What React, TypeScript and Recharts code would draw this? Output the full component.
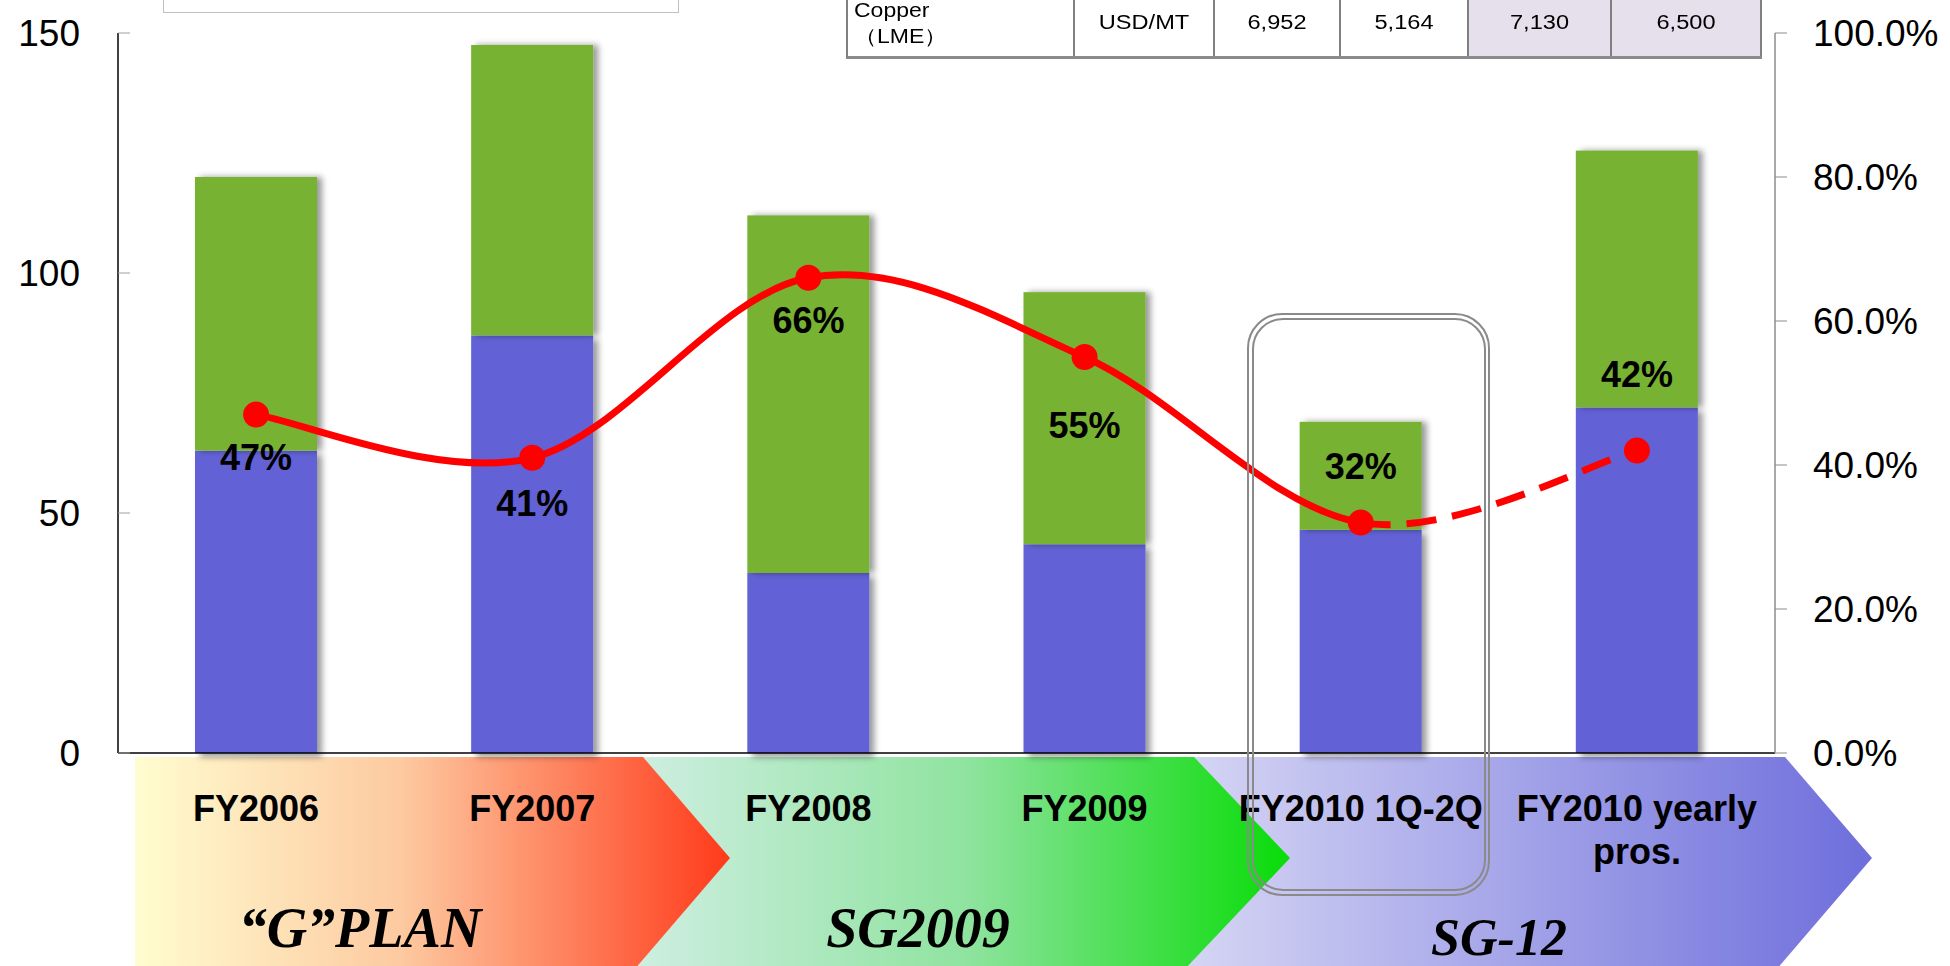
import React from "react";
import { Bar, ComposedChart, LabelList, Line, XAxis, YAxis } from "recharts";

// fiscal periods on the category axis ("\n" = line break in the tick)
const categories = [
  "FY2006",
  "FY2007",
  "FY2008",
  "FY2009",
  "FY2010 1Q-2Q",
  "FY2010 yearly\npros.",
];
// stacked bars (left axis)
const blueValues = [63, 87, 37.5, 43.5, 46.5, 72];
const greenValues = [57, 60.5, 74.5, 52.5, 22.5, 53.5];
// ratio line (right axis, %)
const ratioPct = [47, 41, 66, 55, 32, 42];

const leftTicks = [0, 50, 100, 150];
const rightTicks = [0, 20, 40, 60, 80, 100];

// price table peeking in at the top
const tableCells = ["Copper\n（LME）", "USD/MT", "6,952", "5,164", "7,130", "6,500"];

// plan phases drawn as chevrons under the axis
const phases = ["“G”PLAN", "SG2009", "SG-12"];

const data = categories.map((name, i) => ({
  name,
  blue: blueValues[i],
  green: greenValues[i],
  ratio: ratioPct[i],
}));

const SANS = "'Liberation Sans', Arial, sans-serif";
const SERIF = "'Liberation Serif', 'Times New Roman', serif";
const BLUE = "#6262D6";
const GREEN = "#77B230";
const RED = "#FF0000";

// label placement relative to each marker (below for the first four, above for the rest)
const LABEL_DY = [43, 46, 43, 68, -56, -76];

type Pt = [number, number];

// Excel-like smoothed line; "head" draws every segment except the last one,
// "tail" only the last one, so the forecast part can be dashed with the same shape.
function smoothPart(which: "head" | "tail") {
  return (ctx: any) => {
    let pts: Pt[] = [];
    return {
      areaStart() {},
      areaEnd() {},
      lineStart() {
        pts = [];
      },
      point(x: number, y: number) {
        pts.push([+x, +y]);
      },
      lineEnd() {
        const n = pts.length;
        if (n < 2) return;
        const at = (i: number) => pts[Math.max(0, Math.min(n - 1, i))];
        const from = which === "head" ? 0 : n - 2;
        const to = which === "head" ? n - 2 : n - 1;
        ctx.moveTo(at(from)[0], at(from)[1]);
        for (let i = from; i < to; i++) {
          const p0 = at(i - 1);
          const p1 = at(i);
          const p2 = at(i + 1);
          const p3 = at(i + 2);
          ctx.bezierCurveTo(
            p1[0] + (p2[0] - p0[0]) / 6,
            p1[1] + (p2[1] - p0[1]) / 6,
            p2[0] - (p3[0] - p1[0]) / 6,
            p2[1] - (p3[1] - p1[1]) / 6,
            p2[0],
            p2[1]
          );
        }
      },
    };
  };
}

const headCurve = smoothPart("head");
const tailCurve = smoothPart("tail");

const shadowBar = (filterId: string) => (props: any) => {
  const { x, y, width, height, fill } = props;
  if (!height) return <g />;
  return (
    <rect x={x} y={y} width={width} height={height} fill={fill} filter={`url(#${filterId})`} />
  );
};

const CategoryTick = ({ x, y, payload }: any) => {
  const lines = String(payload.value).split("\n");
  return (
    <text
      x={x}
      y={y}
      textAnchor="middle"
      fontSize={36}
      fontWeight="bold"
      fontFamily={SANS}
      fill="#000"
    >
      {lines.map((l, i) => (
        <tspan key={i} x={x} dy={i === 0 ? 68 : 43}>
          {l}
        </tspan>
      ))}
    </text>
  );
};

const renderPct = (props: any) => {
  const { x, y, value, index } = props;
  const i = typeof index === "number" ? index : ratioPct.indexOf(Number(value));
  return (
    <text
      x={x}
      y={y + (LABEL_DY[i] ?? 45)}
      textAnchor="middle"
      dominantBaseline="central"
      fontSize={36}
      fontWeight="bold"
      fontFamily={SANS}
      fill="#000"
    >
      {Math.round(Number(value))}%
    </text>
  );
};

function Chevrons() {
  return (
    <svg width={1950} height={966} style={{ position: "absolute", left: 0, top: 0 }}>
      <defs>
        <linearGradient id="gPlan" gradientUnits="userSpaceOnUse" x1={135} y1={0} x2={730} y2={0}>
          <stop offset="0" stopColor="#FFFDD0" />
          <stop offset="0.45" stopColor="#FDC9A0" />
          <stop offset="1" stopColor="#FF3A1A" />
        </linearGradient>
        <linearGradient id="gSg2009" gradientUnits="userSpaceOnUse" x1={643} y1={0} x2={1290} y2={0}>
          <stop offset="0" stopColor="#CDEEE0" />
          <stop offset="0.5" stopColor="#8FE39F" />
          <stop offset="1" stopColor="#08DC08" />
        </linearGradient>
        <linearGradient id="gSg12" gradientUnits="userSpaceOnUse" x1={1194} y1={0} x2={1872} y2={0}>
          <stop offset="0" stopColor="#D4D4F4" />
          <stop offset="1" stopColor="#6E6EDC" />
        </linearGradient>
      </defs>
      <polygon points="1150,757 1785,757 1872,858 1776,970 1150,970" fill="url(#gSg12)" />
      <polygon points="600,757 1194,757 1290,858 1184,970 600,970" fill="url(#gSg2009)" />
      <polygon points="135,757 643,757 730,858 634,970 135,970" fill="url(#gPlan)" />
      {[360, 918, 1499].map((cx, i) => (
        <text
          key={phases[i]}
          x={cx}
          y={i === 2 ? 955 : 947}
          textAnchor="middle"
          fontFamily={SERIF}
          fontStyle="italic"
          fontWeight="bold"
          fontSize={i === 2 ? 52 : 56}
          fill="#000"
        >
          {phases[i]}
        </text>
      ))}
    </svg>
  );
}

function PriceTable() {
  const widths = [227, 140, 126, 128, 143, 150];
  return (
    <div
      style={{
        position: "absolute",
        left: 846,
        top: 0,
        height: 56,
        display: "flex",
        borderLeft: "2px solid #808080",
        borderBottom: "3px solid #8a8a8a",
        background: "#fff",
        fontFamily: SANS,
        fontSize: 20,
        color: "#000",
      }}
    >
      {tableCells.map((c, i) => {
        const lines = c.split("\n");
        return (
          <div
            key={i}
            style={{
              width: widths[i],
              height: 56,
              boxSizing: "border-box",
              borderRight: "2px solid #808080",
              background: i >= 4 ? "#E5E0EC" : "#fff",
              position: "relative",
              overflow: "hidden",
            }}
          >
            {i === 0 ? (
              <div
                style={{
                  position: "absolute",
                  left: 6,
                  top: -3,
                  lineHeight: "26px",
                  transform: "scaleX(1.15)",
                  transformOrigin: "left",
                }}
              >
                {lines.map((l, k) => (
                  <div key={k}>{l}</div>
                ))}
              </div>
            ) : (
              <div
                style={{
                  position: "absolute",
                  left: 0,
                  right: 0,
                  top: 0,
                  lineHeight: "44px",
                  textAlign: "center",
                  transform: "scaleX(1.18)",
                }}
              >
                {c}
              </div>
            )}
          </div>
        );
      })}
    </div>
  );
}

function HighlightBox() {
  return (
    <svg
      width={1950}
      height={966}
      style={{ position: "absolute", left: 0, top: 0, pointerEvents: "none" }}
    >
      <rect x={1248} y={314} width={241} height={581} rx={34} fill="none" stroke="#8a8a8a" strokeWidth={2} />
      <rect x={1253} y={319} width={232} height={571} rx={30} fill="none" stroke="#8a8a8a" strokeWidth={2} />
    </svg>
  );
}

export default function App() {
  return (
    <div
      style={{
        position: "absolute",
        left: 0,
        top: 0,
        width: 1950,
        height: 966,
        overflow: "hidden",
        background: "#fff",
      }}
    >
      <Chevrons />
      <div style={{ position: "absolute", left: 0, top: 0 }}>
        <ComposedChart
          width={1950}
          height={966}
          data={data}
          margin={{ top: 33, right: 0, bottom: 0, left: 0 }}
        >
          <defs>
            <filter id="shadowBlue" x="-20%" y="-20%" width="140%" height="140%">
              <feDropShadow dx={5} dy={4} stdDeviation={3} floodColor="#000" floodOpacity={0.4} />
            </filter>
            <filter id="shadowGreen" x="-20%" y="-20%" width="140%" height="140%">
              <feDropShadow dx={5} dy={0} stdDeviation={3} floodColor="#000" floodOpacity={0.4} />
            </filter>
          </defs>
          <XAxis
            xAxisId="sep"
            type="number"
            domain={[0, 6]}
            ticks={[1, 2, 3, 4, 5]}
            height={0}
            mirror
            axisLine={false}
            tickSize={11}
            tickLine={{ stroke: "#a8a8a8" }}
            tick={() => <g />}
          />
          <XAxis
            dataKey="name"
            height={213}
            interval={0}
            tickLine={false}
            tickSize={0}
            tickMargin={0}
            axisLine={{ stroke: "#000", strokeWidth: 1.5 }}
            tick={<CategoryTick />}
          />
          <YAxis
            yAxisId="left"
            orientation="left"
            width={118}
            domain={[0, 150]}
            ticks={leftTicks}
            tickSize={-12}
            tickMargin={50}
            axisLine={{ stroke: "#000", strokeWidth: 1.5 }}
            tickLine={{ stroke: "#a0a0a0" }}
            tick={{ fill: "#000", fontSize: 37, fontFamily: SANS }}
          />
          <YAxis
            yAxisId="right"
            orientation="right"
            width={175}
            domain={[0, 100]}
            ticks={rightTicks}
            tickSize={12}
            tickMargin={26}
            tickFormatter={(v: number) => `${v.toFixed(1)}%`}
            axisLine={{ stroke: "#8c8c8c", strokeWidth: 1.5 }}
            tickLine={{ stroke: "#8c8c8c" }}
            tick={{ fill: "#000", fontSize: 37, fontFamily: SANS, textAnchor: "start" }}
          />
          <Bar
            yAxisId="left"
            dataKey="blue"
            stackId="s"
            fill={BLUE}
            barSize={122}
            shape={shadowBar("shadowBlue")}
            isAnimationActive={false}
          />
          <Bar
            yAxisId="left"
            dataKey="green"
            stackId="s"
            fill={GREEN}
            barSize={122}
            shape={shadowBar("shadowGreen")}
            isAnimationActive={false}
          />
          <Line
            yAxisId="right"
            dataKey="ratio"
            type={tailCurve as any}
            stroke={RED}
            strokeWidth={7}
            strokeDasharray="30 16"
            dot={false}
            activeDot={false}
            isAnimationActive={false}
          />
          <Line
            yAxisId="right"
            dataKey="ratio"
            type={headCurve as any}
            stroke={RED}
            strokeWidth={7}
            dot={{ r: 13, fill: RED, stroke: RED, strokeWidth: 0 }}
            activeDot={false}
            isAnimationActive={false}
          >
            <LabelList dataKey="ratio" content={renderPct} />
          </Line>
        </ComposedChart>
      </div>
      <div
        style={{
          position: "absolute",
          left: 163,
          top: -40,
          width: 514,
          height: 51,
          border: "1.5px solid #c0c0c0",
          background: "#fff",
        }}
      />
      <PriceTable />
      <HighlightBox />
    </div>
  );
}
